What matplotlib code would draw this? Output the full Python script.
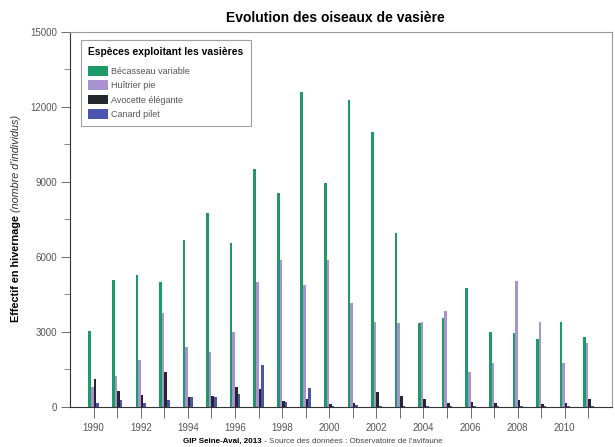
import numpy as np
import matplotlib.pyplot as plt
from matplotlib.ticker import MultipleLocator

years = list(range(1990, 2012))

becasseau = [3030, 5050, 5260, 5000, 6650, 7730, 6530, 9530, 8530, 12590, 8930,
             12280, 10980, 6950, 3340, 3540, 4730, 3000, 2950, 2690, 3390, 2770]
huitrier = [800, 1240, 1870, 3750, 2400, 2190, 2990, 4990, 5860, 4860, 5860,
            4140, 3390, 3340, 3390, 3820, 1400, 1730, 5030, 3390, 1730, 2550]
avocette = [1100, 630, 460, 1370, 390, 430, 790, 690, 220, 290, 90,
            150, 570, 430, 290, 130, 190, 150, 260, 100, 150, 290]
canard = [150, 260, 150, 260, 370, 390, 490, 1660, 190, 730, 30,
          50, 40, 30, 30, 30, 30, 30, 30, 30, 30, 30]

series = [("Bécasseau variable", becasseau, "#1e9a68"),
          ("Huîtrier pie", huitrier, "#a893d0"),
          ("Avocette élégante", avocette, "#26262e"),
          ("Canard pilet", canard, "#4b55ae")]

plt.rcParams['font.family'] = ['Liberation Sans', 'DejaVu Sans']

fig = plt.figure(figsize=(6.15, 4.47), dpi=100)
ax = fig.add_axes([0.114, 0.0906, 0.881, 0.838])

x = np.array(years)
w = 0.11
offsets = [-0.165, -0.055, 0.055, 0.165]
for (name, vals, col), off in zip(series, offsets):
    ax.bar(x + off, vals, width=w, color=col, label=name, linewidth=0)

ax.set_xlim(1989, 2012)
ax.set_ylim(0, 15000)
ax.set_xticks(years)
ax.set_xticklabels([str(y) if y % 2 == 0 else "" for y in years])
ax.yaxis.set_major_locator(MultipleLocator(3000))
ax.yaxis.set_minor_locator(MultipleLocator(1500))

ax.tick_params(axis='x', length=8, width=0.6, color='#555555',
               labelsize=7, labelcolor='#555555', pad=4)
ax.tick_params(axis='y', which='major', length=6.5, width=0.6, color='#555555',
               labelsize=7, labelcolor='#555555', pad=3)
ax.tick_params(axis='y', which='minor', length=4, width=0.6, color='#777777')

for s in ['left', 'bottom']:
    ax.spines[s].set_color('#333333')
    ax.spines[s].set_linewidth(0.8)
for s in ['top', 'right']:
    ax.spines[s].set_color('#999999')
    ax.spines[s].set_linewidth(0.8)

leg = ax.legend(loc='upper left', bbox_to_anchor=(0.0203, 0.978),
                title="Espèces exploitant les vasières", fontsize=6.5,
                title_fontproperties={'weight': 'bold', 'size': 7.4},
                frameon=True, fancybox=False, edgecolor='#888888',
                handlelength=2.2, handleheight=1.3, labelspacing=0.5,
                borderpad=0.8, handletextpad=0.3, borderaxespad=0)
leg.get_frame().set_linewidth(0.8)
leg._legend_box.align = "left"
leg._legend_box.sep = 6
for t in leg.get_texts():
    t.set_color('#555555')

fig.text(0.546, 0.96, "Evolution des oiseaux de vasière", ha='center',
         va='center', fontsize=10, fontweight='bold')

# y label: bold part then italic part
t1 = fig.text(0.026, 1 - 322 / 447, "Effectif en hivernage", rotation=90,
              ha='center', va='bottom', fontsize=7.8, fontweight='bold')
fig.canvas.draw()
bb = t1.get_window_extent()
top = (bb.y1 + 3) / fig.bbox.height
fig.text(0.026, top, "(nombre d'individus)", rotation=90, ha='center',
         va='bottom', fontsize=7.8, fontstyle='italic', color='#333333')

# source line: bold part then normal part
f1 = fig.text(183 / 615, 0.004, "GIP Seine-Aval, 2013", ha='left',
              va='bottom', fontsize=5.8, fontweight='bold')
fig.canvas.draw()
fb = f1.get_window_extent()
fig.text(fb.x1 / fig.bbox.width, 0.004,
         " - Source des données : Observatoire de l'avifaune",
         ha='left', va='bottom', fontsize=5.8, color='#444444')

fig.savefig("out.png", dpi=100)
